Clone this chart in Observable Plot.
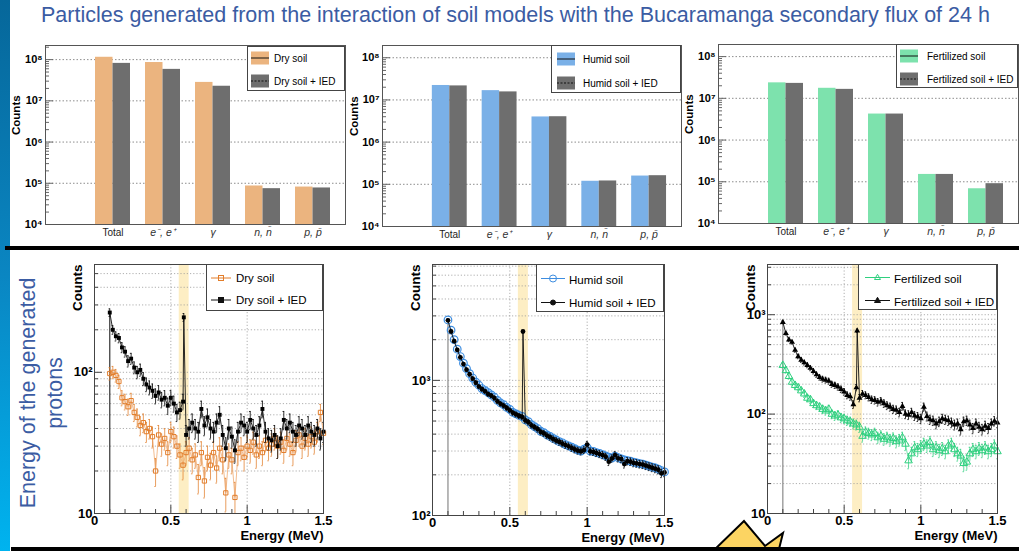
<!DOCTYPE html>
<html><head><meta charset="utf-8">
<script src="https://cdn.jsdelivr.net/npm/d3@7"></script>
<script src="https://cdn.jsdelivr.net/npm/@observablehq/plot@0.6"></script>
<style>
body{margin:0;background:#fff;}
#slide{position:relative;width:1019px;height:551px;overflow:hidden;background:#fff;font-family:"Liberation Sans",Arial,Helvetica,sans-serif;}
.abs{position:absolute;}
.legend{position:absolute;background:#fff;border:1px solid #444;box-sizing:border-box;}
.legend .row{position:absolute;display:flex;align-items:center;white-space:nowrap;color:#000;transform:translateY(-50%);}
svg{overflow:visible;}
</style></head><body><div id="slide"></div>
<script>
// ---------- DATA ----------
const categories = ["Total", "e⁻, e⁺", "γ", "n, n̄", "p, p̄"];
const drySoilBars      = [1.14e8, 8.5e7, 2.8e7, 8.6e4, 8.1e4];
const drySoilIEDBars   = [8.1e7, 5.8e7, 2.26e7, 7.4e4, 7.7e4];
const humidSoilBars    = [2.2e7, 1.66e7, 3.95e6, 1.18e5, 1.57e5];
const humidSoilIEDBars = [2.15e7, 1.55e7, 4.0e6, 1.2e5, 1.6e5];
const fertSoilBars     = [2.35e7, 1.74e7, 4.2e6, 1.5e5, 6.8e4];
const fertSoilIEDBars  = [2.28e7, 1.64e7, 4.2e6, 1.5e5, 9.0e4];

const energy = [0.10,0.12,0.14,0.16,0.18,0.20,0.22,0.24,0.26,0.28,0.30,0.32,0.34,0.36,0.38,0.40,0.42,0.44,0.46,0.48,0.50,0.52,0.54,0.56,0.58,
 0.60,0.62,0.64,0.66,0.68,0.70,0.72,0.74,0.76,0.78,0.80,0.82,0.84,0.86,0.88,0.90,0.92,0.94,0.96,0.98,1.00,1.02,1.04,1.06,1.08,1.10,1.12,1.14,1.16,1.18,
 1.20,1.22,1.24,1.26,1.28,1.30,1.32,1.34,1.36,1.38,1.40,1.42,1.44,1.46,1.48,1.50];

const dryProtons = [98,100,95,86,66,62,57,63,52,48,42,44,38,40,35,20,36,31,34,27,38,35,30,26,22,
 27,29,24,26,18,27,17,25,22,27,21,29,24,14,26,24,13,27,29,25,30,28,32,26,30,27,33,29,31,34,30,32,28,34,31,27,33,36,30,34,31,35,32,38,52,37];
const dryIEDProtons = [265,200,180,175,150,140,120,125,108,100,104,90,82,78,74,68,72,64,66,58,66,60,52,54,62,
 36,40,44,40,38,55,42,48,40,38,44,50,36,29,40,35,28,38,44,42,38,46,40,36,42,55,38,34,33,36,30,34,46,40,44,38,36,42,40,36,42,38,36,40,34,38];
const humidProtons = [2800,2350,2000,1700,1500,1340,1220,1120,1040,970,920,870,840,810,780,750,710,680,660,630,610,580,565,550,540,
 510,495,470,455,440,420,410,395,385,372,362,352,345,335,328,320,312,305,300,310,318,300,298,292,288,282,276,270,266,275,268,262,258,255,252,248,245,242,240,236,232,228,225,220,215,210];
const humidIEDProtons = [2780,2300,1950,1680,1480,1320,1200,1110,1030,960,900,860,830,790,770,740,700,670,650,625,600,575,560,545,535,
 505,490,465,450,435,415,405,390,380,368,358,350,340,332,325,316,308,302,298,305,335,298,295,290,285,280,272,250,264,280,265,262,240,252,250,245,243,240,238,234,230,226,222,218,205,208];
const fertProtons = [310,275,240,210,195,185,172,160,145,140,128,122,118,112,108,112,100,96,98,92,90,86,84,80,78,
 74,60,66,64,62,64,58,60,56,58,55,57,53,55,58,50,34,40,46,44,47,50,48,52,44,46,43,45,42,48,50,44,40,38,32,33,40,44,42,45,43,46,42,44,48,42];
const fertIEDProtons = [840,650,560,530,440,380,350,330,310,290,270,250,235,225,220,215,200,195,188,178,168,155,150,125,185,
 145,160,155,148,140,138,132,135,128,122,118,112,110,104,120,100,98,104,96,94,90,118,95,88,86,80,84,90,88,86,82,78,80,70,84,86,78,72,80,74,70,76,72,80,85,82];

const spikeEnergy = 0.585;
const drySpike = 245, humidSpike = 2300, fertSpike = 690;
const highlightBand = [0.555, 0.62];
const energyTicks = [0, 0.5, 1, 1.5];

// ---------- HELPERS ----------
const FONT = '"Liberation Sans", Arial, Helvetica, sans-serif';
const slide = document.getElementById("slide");
function place(el, left, top) {
  const d = document.createElement("div");
  d.className = "abs"; d.style.left = left + "px"; d.style.top = top + "px";
  d.appendChild(el); slide.appendChild(d); return d;
}
const SUP = "⁰¹²³⁴⁵⁶⁷⁸⁹";
function supFmt(v) {
  const e = Math.round(Math.log10(v));
  return e === 1 ? "10" : "10" + String(e).split("").map(c => SUP[+c]).join("");
}
function logSteps(lo, hi) {
  const out = [];
  for (let d = Math.floor(Math.log10(lo)); d <= Math.ceil(Math.log10(hi)); d++)
    for (let k = 1; k <= 9; k++) { const v = k * Math.pow(10, d); if (v >= lo * 0.999 && v <= hi) out.push(v); }
  return out;
}
const isDecade = v => Math.abs(Math.log10(v) - Math.round(Math.log10(v))) < 1e-9;

// ---------- TOP BAR PANELS ----------
function barPanel(cfg) {
  const {base, ied, color, width, height, mL, mR, mT, mB, ymax, countsDx} = cfg;
  const ymin = 1e4;
  const rows = categories.map((c, i) => ({c, i: i + 1, base: base[i], ied: ied[i]}));
  const ux = 6 / (width - mL - mR);
  const steps = logSteps(ymin, ymax);
  const decades = steps.filter(isDecade);
  const minors = steps.filter(v => !isDecade(v));
  return Plot.plot({
    width, height, marginLeft: mL, marginRight: mR, marginTop: mT, marginBottom: mB,
    style: {fontFamily: FONT, overflow: "visible", background: "transparent"},
    x: {domain: [0, 6], axis: null},
    y: {type: "log", domain: [ymin, ymax], axis: null},
    marks: [
      Plot.ruleY(decades.filter(v => v > ymin), {stroke: "#808080", strokeDasharray: "1.5,2", strokeWidth: 0.9}),
      Plot.rect(rows, {x1: d => d.i, x2: d => d.i + 0.35, y1: ymin, y2: "base", fill: color}),
      Plot.rect(rows, {x1: d => d.i + 0.35, x2: d => d.i + 0.7, y1: ymin, y2: "ied", fill: "#6e6e6e"}),
      Plot.ruleY(minors, {x1: 0, x2: 4 * ux, stroke: "#666"}),
      Plot.ruleY(decades, {x1: 0, x2: 8 * ux, stroke: "#666"}),
      Plot.frame({stroke: "#555"}),
      Plot.axisY(decades, {tickSize: 0, tickPadding: 3, tickFormat: supFmt, fontWeight: "bold", fontSize: 11, label: null}),
      Plot.text(rows.filter(d => d.i === 1), {x: d => d.i + 0.35, text: "c", frameAnchor: "bottom", dy: 11, fontSize: 10, fill: "#222"}),
      Plot.text(rows.filter(d => d.i > 1), {x: d => d.i + 0.35, text: "c", frameAnchor: "bottom", dy: 11, fontSize: 10.5, fontStyle: "italic", fill: "#333"}),
      Plot.text(["Counts"], {frameAnchor: "left", rotate: -90, dx: countsDx, fontWeight: "bold", fontSize: 11.5})
    ]
  });
}

// ---------- BOTTOM SPECTRUM PANELS ----------
function spectrumPanel(cfg) {
  const {width, height, mL, mR, mT, mB, ymin, ymax, base, ied, spike, baseColor, baseLine, baseSymbol, baseR, baseSW, iedSymbol, iedR, startColor, labelDy} = cfg;
  const baseData = energy.map((e, i) => ({e, v: base[i]}));
  const iedData = [];
  let inserted = false;
  energy.forEach((e, i) => {
    if (!inserted && e > spikeEnergy) { iedData.push({e: spikeEnergy, v: spike}); inserted = true; }
    iedData.push({e, v: ied[i]});
  });
  const fh = height - mT - mB;
  const fac = px => Math.pow(ymax / ymin, px / fh);
  const ux = 1.5 / (width - mL - mR);
  const steps = logSteps(ymin, ymax);
  const decades = steps.filter(isDecade);
  const minors = steps.filter(v => !isDecade(v));
  const xMinor = [0.1,0.2,0.3,0.4,0.6,0.7,0.8,0.9,1.1,1.2,1.3,1.4];
  const err = v => Math.sqrt(v);
  const cap = 0.005;
  const errMarks = (data, color, op) => [
    Plot.ruleX(data, {x: "e", y1: d => Math.max(ymin, d.v - err(d.v)), y2: d => d.v + err(d.v), stroke: color, strokeOpacity: op}),
    Plot.ruleY(data, {y: d => d.v + err(d.v), x1: d => d.e - cap, x2: d => d.e + cap, stroke: color, strokeOpacity: op}),
    Plot.ruleY(data.filter(d => d.v - err(d.v) > ymin), {y: d => d.v - err(d.v), x1: d => d.e - cap, x2: d => d.e + cap, stroke: color, strokeOpacity: op})
  ];
  return Plot.plot({
    width, height, marginLeft: mL, marginRight: mR, marginTop: mT, marginBottom: mB,
    style: {fontFamily: FONT, overflow: "visible", background: "transparent"},
    x: {domain: [0, 1.5], axis: null},
    y: {type: "log", domain: [ymin, ymax], axis: null},
    marks: [
      Plot.rect([highlightBand], {x1: d => d[0], x2: d => d[1], y1: ymin, y2: ymax, fill: "#fdeec4"}),
      Plot.ruleY(steps.filter(v => v > ymin && v < ymax), {stroke: "#9a9a9a", strokeDasharray: "1.2,2", strokeWidth: 0.8}),
      Plot.ruleX([0.5, 1.0], {stroke: "#9a9a9a", strokeDasharray: "1.2,2", strokeWidth: 0.8}),
      Plot.ruleX([iedData[0]], {x: "e", y1: ymin, y2: "v", stroke: startColor, strokeWidth: 1.2}),
      ...errMarks(baseData, baseColor, 0.75),
      Plot.line(baseData, {x: "e", y: "v", stroke: baseLine, strokeOpacity: 0.7, strokeWidth: 1}),
      Plot.dot(baseData, {x: "e", y: "v", symbol: baseSymbol, r: baseR, stroke: baseColor, fill: "none", strokeWidth: baseSW}),
      ...errMarks(iedData, "#111", 0.85),
      Plot.line(iedData, {x: "e", y: "v", stroke: "#111", strokeWidth: 1, strokeOpacity: 0.9}),
      Plot.dot(iedData, {x: "e", y: "v", symbol: iedSymbol, r: iedR, fill: "#000", stroke: "none"}),
      Plot.ruleY(minors, {x1: 0, x2: 4 * ux, stroke: "#444"}),
      Plot.ruleY(decades, {x1: 0, x2: 8 * ux, stroke: "#444"}),
      Plot.ruleX(xMinor, {y1: ymin, y2: ymin * fac(4), stroke: "#444"}),
      Plot.ruleX(energyTicks, {y1: ymin, y2: ymin * fac(8), stroke: "#444"}),
      Plot.frame({stroke: "#444"}),
      Plot.axisY(decades, {tickSize: 0, tickPadding: 2, tickFormat: supFmt, fontWeight: "bold", fontSize: 13, label: null}),
      Plot.axisX(energyTicks, {tickSize: 0, tickPadding: 2, tickFormat: d => String(d), fontWeight: "bold", fontSize: 13, label: null}),
      Plot.text(["Counts"], {frameAnchor: "top-left", rotate: -90, textAnchor: "end", dx: -22, fontWeight: "bold", fontSize: 13.5}),
      Plot.text(["Energy (MeV)"], {frameAnchor: "bottom-right", textAnchor: "end", dy: labelDy, fontWeight: "bold", fontSize: 13})
    ]
  });
}

// ---------- LEGENDS ----------
function legendBox(left, top, w, h, rows) {
  const box = document.createElement("div");
  box.className = "legend";
  Object.assign(box.style, {left: left + "px", top: top + "px", width: w + "px", height: h + "px"});
  rows.forEach(r => {
    const row = document.createElement("div");
    row.className = "row";
    row.style.left = r.x + "px"; row.style.top = r.y + "px"; row.style.fontSize = r.fs + "px";
    row.innerHTML = r.svg + `<span style="margin-left:${r.gap}px">${r.label}</span>`;
    box.appendChild(row);
  });
  slide.appendChild(box);
}
function swatch(color, dashed) {
  return `<svg width="18" height="13" style="display:block"><rect x="0" y="0" width="18" height="13" fill="${color}"/>
    <line x1="0" x2="18" y1="6.5" y2="6.5" stroke="#111" stroke-width="1" ${dashed ? 'stroke-dasharray="2,1.5"' : ''}/></svg>`;
}
function markerLine(w, color, symbol, filled) {
  const cx = w / 2, cy = 6;
  let m = "";
  const f = filled ? color : "none";
  if (symbol === "square") m = `<rect x="${cx-2.5}" y="${cy-2.5}" width="5" height="5" fill="${f}" stroke="${color}"/>`;
  if (symbol === "circle") m = `<circle cx="${cx}" cy="${cy}" r="${filled ? 2.5 : 3.5}" fill="${f}" stroke="${color}"/>`;
  if (symbol === "triangle") m = `<path d="M${cx},${cy-3.2}L${cx+3},${cy+2}L${cx-3},${cy+2}Z" fill="${f}" stroke="${color}"/>`;
  return `<svg width="${w}" height="12" style="display:block"><line x1="0" x2="${w}" y1="${cy}" y2="${cy}" stroke="${color}" stroke-width="1"/>${m}</svg>`;
}

// ---------- SLIDE ----------
const side = document.createElement("div");
Object.assign(side.style, {position: "absolute", left: "0px", top: "0px", width: "10px", height: "551px",
  background: "linear-gradient(#06679a, #0a86c2 50%, #00b3ef)"});
slide.appendChild(side);

const title = document.createElement("div");
Object.assign(title.style, {position: "absolute", left: "41px", top: "3px", fontSize: "21.5px", lineHeight: "25px", color: "#3b5ca3", whiteSpace: "nowrap"});
title.textContent = "Particles generated from the interaction of soil models with the Bucaramanga secondary flux of 24 h";
slide.appendChild(title);

const sideText = document.createElement("div");
Object.assign(sideText.style, {position: "absolute", left: "-108.5px", top: "366px", width: "300px", height: "54px",
  textAlign: "center", fontSize: "21.5px", lineHeight: "27px", color: "#3b5ca3", transform: "rotate(-90deg)", transformOrigin: "50% 50%", whiteSpace: "nowrap"});
sideText.innerHTML = "Energy of the generated<br>protons";
slide.appendChild(sideText);

// top bar charts
place(barPanel({base: drySoilBars, ied: drySoilIEDBars, color: "#ebb47f", width: 350, height: 210, mL: 45, mR: 5, mT: 5, mB: 26, ymax: 2.2e8, countsDx: -29}), 0, 40);
place(barPanel({base: humidSoilBars, ied: humidSoilIEDBars, color: "#7ab0e7", width: 345, height: 210, mL: 42, mR: 4, mT: 5, mB: 24, ymax: 1.95e8, countsDx: -28}), 340, 40);
place(barPanel({base: fertSoilBars, ied: fertSoilIEDBars, color: "#7de2ad", width: 339, height: 210, mL: 38, mR: 1, mT: 4, mB: 27, ymax: 1.95e8, countsDx: -29}), 680, 40);

legendBox(247, 46, 98, 45, [
  {x: 3, y: 11.3, fs: 10, gap: 5, svg: swatch("#ebb47f", false), label: "Dry soil"},
  {x: 3, y: 34, fs: 10, gap: 5, svg: swatch("#6e6e6e", true), label: "Dry soil + IED"}]);
legendBox(551, 45, 130, 48, [
  {x: 5, y: 13.3, fs: 10, gap: 8, svg: swatch("#7ab0e7", false), label: "Humid soil"},
  {x: 5, y: 36.7, fs: 10, gap: 8, svg: swatch("#6e6e6e", true), label: "Humid soil + IED"}]);
legendBox(896, 44, 122, 44, [
  {x: 3, y: 11, fs: 10, gap: 9, svg: swatch("#7de2ad", false), label: "Fertilized soil"},
  {x: 3, y: 34.3, fs: 10, gap: 9, svg: swatch("#6e6e6e", true), label: "Fertilized soil + IED"}]);

// separators
const bar1 = document.createElement("div");
Object.assign(bar1.style, {position: "absolute", left: "5px", top: "246px", width: "1014px", height: "4px", background: "#000"});
slide.appendChild(bar1);

// bottom spectra
place(spectrumPanel({width: 340, height: 300, mL: 94, mR: 17, mT: 14, mB: 37, ymin: 10, ymax: 580,
  base: dryProtons, ied: dryIEDProtons, spike: drySpike, baseColor: "#e27d2a", baseLine: "#eca060",
  baseSymbol: "square", baseR: 2.4, baseSW: 1, iedSymbol: "square", iedR: 2.2, startColor: "#333", labelDy: 26}), 0, 250);
place(spectrumPanel({width: 340, height: 300, mL: 92, mR: 16, mT: 14, mB: 35, ymin: 100, ymax: 7200,
  base: humidProtons, ied: humidIEDProtons, spike: humidSpike, baseColor: "#3d8de0", baseLine: "#5a9de6",
  baseSymbol: "circle", baseR: 3.8, baseSW: 1.2, iedSymbol: "circle", iedR: 2.4, startColor: "#8a8a8a", labelDy: 26}), 340, 250);
place(spectrumPanel({width: 339, height: 300, mL: 87, mR: 22, mT: 14, mB: 37, ymin: 10, ymax: 3200,
  base: fertProtons, ied: fertIEDProtons, spike: fertSpike, baseColor: "#2fd07f", baseLine: "#49d890",
  baseSymbol: "triangle", baseR: 2.8, baseSW: 1, iedSymbol: "triangle", iedR: 2.2, startColor: "#8a8a8a", labelDy: 26}), 680, 250);

legendBox(205.7, 264.3, 117.3, 46.4, [
  {x: 4.3, y: 12.4, fs: 11.5, gap: 5, svg: markerLine(20, "#e27d2a", "square", false), label: "Dry soil"},
  {x: 4.3, y: 34.7, fs: 11.5, gap: 5, svg: markerLine(20, "#111", "square", true), label: "Dry soil + IED"}]);
legendBox(536, 264.3, 128, 47.7, [
  {x: 4, y: 13.7, fs: 11.6, gap: 4, svg: markerLine(24, "#3d8de0", "circle", false), label: "Humid soil"},
  {x: 4, y: 37, fs: 11.6, gap: 4, svg: markerLine(24, "#111", "circle", true), label: "Humid soil + IED"}]);
legendBox(858.3, 264.3, 138.4, 46, [
  {x: 5.7, y: 12.7, fs: 11.6, gap: 4, svg: markerLine(25, "#2fd07f", "triangle", false), label: "Fertilized soil"},
  {x: 5.7, y: 35.3, fs: 11.6, gap: 4, svg: markerLine(25, "#111", "triangle", true), label: "Fertilized soil + IED"}]);

// decorative callout shape and bottom bar
const deco = document.createElementNS("http://www.w3.org/2000/svg", "svg");
deco.setAttribute("width", "1019"); deco.setAttribute("height", "551");
Object.assign(deco.style, {position: "absolute", left: "0px", top: "0px", pointerEvents: "none"});
deco.innerHTML = '<polygon points="711,553 744,521 765,546 783,533 778,553" fill="#fcd462" stroke="#000" stroke-width="2" stroke-linejoin="miter"/>';
slide.appendChild(deco);
const bar2 = document.createElement("div");
Object.assign(bar2.style, {position: "absolute", left: "11px", top: "547px", width: "1008px", height: "4px", background: "#000"});
slide.appendChild(bar2);
</script></body></html>
